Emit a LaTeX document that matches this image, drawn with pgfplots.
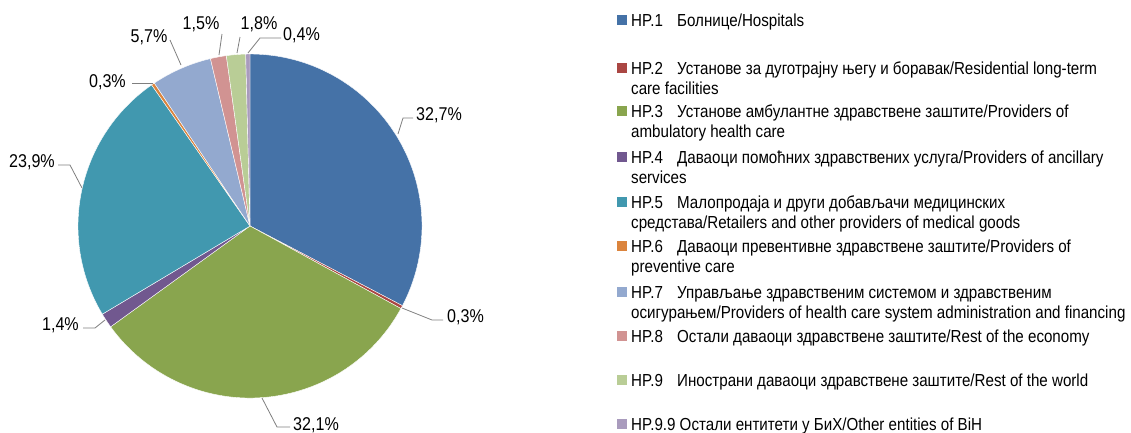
\documentclass[border=0pt]{standalone}
\usepackage{pgfplots}
\pgfplotsset{compat=1.18}
\usepackage{pgfplotstable}
\usepackage{fontspec}
\setmainfont[FakeStretch=0.87]{Liberation Sans}
\definecolor{pie0}{HTML}{4572A7}
\definecolor{pie1}{HTML}{AA4643}
\definecolor{pie2}{HTML}{89A54E}
\definecolor{pie3}{HTML}{71588F}
\definecolor{pie4}{HTML}{4198AF}
\definecolor{pie5}{HTML}{DB843D}
\definecolor{pie6}{HTML}{93A9CF}
\definecolor{pie7}{HTML}{D19392}
\definecolor{pie8}{HTML}{B9CD96}
\definecolor{pie9}{HTML}{A99BBD}
\definecolor{lead}{HTML}{7F7F7F}
\pgfplotstableread{
code value
HP1 32.7
HP2 0.3
HP3 32.1
HP4 1.4
HP5 23.9
HP6 0.3
HP7 5.7
HP8 1.5
HP9 1.8
HP99 0.4
}\piedata
\begin{document}
\begin{tikzpicture}
\useasboundingbox (0,0) rectangle (1131pt,432pt);
% cumulative angles from the table
\def\cum{0}
\def\tot{100.1}
\pgfplotsforeachungrouped \i in {0,...,9}{%
  \pgfplotstablegetelem{\i}{value}\of\piedata
  \let\pieval\pgfplotsretval
  \pgfmathsetmacro\piest{90-(\cum/\tot)*360}%
  \pgfmathsetmacro\cum{\cum+\pieval}%
  \pgfmathsetmacro\pieen{90-(\cum/\tot)*360}%
  \expandafter\xdef\csname pieS\i\endcsname{\piest}%
  \expandafter\xdef\csname pieE\i\endcsname{\pieen}%
}
\begin{axis}[
  at={(0,0)}, anchor=south west,
  scale only axis, width=1131pt, height=432pt,
  xmin=0, xmax=1131, ymin=0, ymax=432, y dir=reverse,
  hide axis, clip=false]
\pgfplotsinvokeforeach{0,...,9}{
  \fill[pie#1, draw=white, line width=0.4pt] (axis cs:250,226) -- ++(\csname pieS#1\endcsname:172pt)
     arc[start angle=\csname pieS#1\endcsname, end angle=\csname pieE#1\endcsname, radius=172pt] -- cycle;
}
% leader lines
\draw[lead, line width=0.8pt] (axis cs:398,134) -- (axis cs:403,118) -- (axis cs:413,118);
\draw[lead, line width=0.8pt] (axis cs:402,308) -- (axis cs:432,320) -- (axis cs:443,320);
\draw[lead, line width=0.8pt] (axis cs:262,398) -- (axis cs:277,427) -- (axis cs:290,427);
\draw[lead, line width=0.8pt] (axis cs:105,320) -- (axis cs:95,328) -- (axis cs:83,328);
\draw[lead, line width=0.8pt] (axis cs:82,188) -- (axis cs:70,165) -- (axis cs:58,165);
\draw[lead, line width=0.8pt] (axis cs:153,83) -- (axis cs:132,83);
\draw[lead, line width=0.8pt] (axis cs:181,65) -- (axis cs:170,40);
\draw[lead, line width=0.8pt] (axis cs:219,55) -- (axis cs:222,34);
\draw[lead, line width=0.8pt] (axis cs:237,53) -- (axis cs:240,37);
\draw[lead, line width=0.8pt] (axis cs:248,53) -- (axis cs:260,38) -- (axis cs:281,38);
% data labels
\begin{scope}[every node/.style={inner sep=0pt, font=\fontsize{18.5}{20}\selectfont}]
\node[anchor=base west] at (axis cs:416,120) {32,7\%};
\node[anchor=base west] at (axis cs:447,322) {0,3\%};
\node[anchor=base west] at (axis cs:293,430) {32,1\%};
\node[anchor=base east] at (axis cs:79,330) {1,4\%};
\node[anchor=base east] at (axis cs:55,167) {23,9\%};
\node[anchor=base east] at (axis cs:126,87) {0,3\%};
\node[anchor=base] at (axis cs:149,42) {5,7\%};
\node[anchor=base] at (axis cs:201,29) {1,5\%};
\node[anchor=base] at (axis cs:259,29) {1,8\%};
\node[anchor=base west] at (axis cs:283,40) {0,4\%};
\end{scope}
% legend
\begin{scope}[every node/.style={inner sep=0pt, font=\fontsize{17.4}{20}\selectfont}]
\def\legent#1#2#3#4#5{%
  \fill[#1] (axis cs:617,#2-5) rectangle (axis cs:627,#2+5);
  \node[anchor=base west] at (axis cs:631,#2+6.5) {#3};
  \node[anchor=base west] at (axis cs:677,#2+6.5) {#4};
  \node[anchor=base west] at (axis cs:631,#2+26.5) {#5};
}
\legent{pie0}{20}{HP.1}{Болнице/Hospitals}{}
\legent{pie1}{68}{HP.2}{Установе за дуготрајну његу и боравак/Residential long-term}{care facilities}
\legent{pie2}{111}{HP.3}{Установе амбулантне здравствене заштите/Providers of}{ambulatory health care}
\legent{pie3}{157}{HP.4}{Даваоци помоћних здравствених услуга/Providers of ancillary}{services}
\legent{pie4}{202}{HP.5}{Малопродаја и други добављачи медицинских}{средстава/Retailers and other providers of medical goods}
\legent{pie5}{246}{HP.6}{Даваоци превентивне здравствене заштите/Providers of}{preventive care}
\legent{pie6}{292}{HP.7}{Управљање здравственим системом и здравственим}{осигурањем/Providers of health care system administration and financing}
\legent{pie7}{336}{HP.8}{Остали даваоци здравствене заштите/Rest of the economy}{}
\legent{pie8}{380}{HP.9}{Инострани даваоци здравствене заштите/Rest of the world}{}
\legent{pie9}{424}{HP.9.9 Остали ентитети у БиХ/Other entities of BiH}{}{}
\end{scope}
\end{axis}
\end{tikzpicture}
\end{document}
